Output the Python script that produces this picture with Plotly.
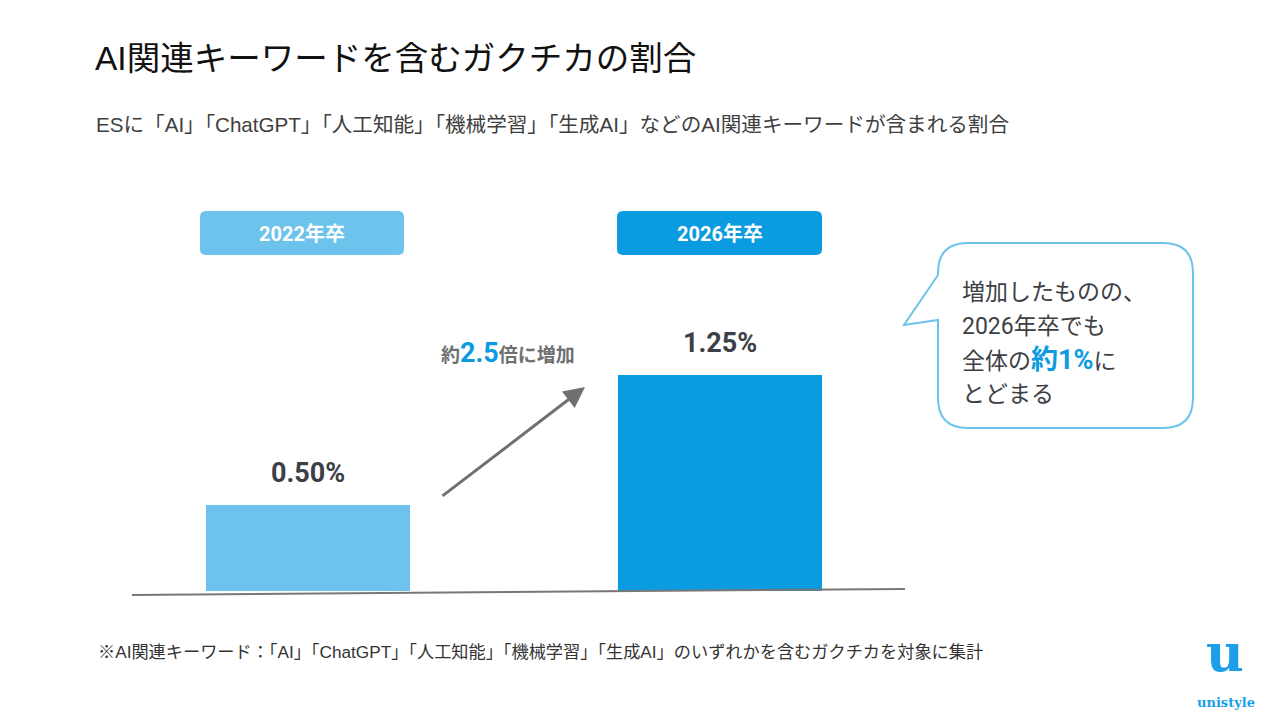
import plotly.graph_objects as go

# ---- data ----
categories = ["2022年卒", "2026年卒"]
values = [0.50, 1.25]
value_labels = ["0.50%", "1.25%"]
bar_colors = ["#6cc3ec", "#0a9be0"]

title_text = "AI関連キーワードを含むガクチカの割合"
subtitle_text = "ESに「AI」「ChatGPT」「人工知能」「機械学習」「生成AI」などのAI関連キーワードが含まれる割合"
footnote_text = "※AI関連キーワード：「AI」「ChatGPT」「人工知能」「機械学習」「生成AI」のいずれかを含むガクチカを対象に集計"
bubble_lines = [
    "増加したものの、",
    "2026年卒でも",
    "全体の<b><span style='color:#0a9be0;font-size:27px'>約1%</span></b>に",
    "とどまる",
]

# ---- layout helpers (pixel -> paper) ----
W, H = 1280, 720
PL, PR, PT, PB = 132, 905, 200, 591
PXU = 173.0  # pixels per unit on y


def px(x):
    return (x - PL) / (PR - PL)


def py(y):
    return (PB - y) / (PB - PT)


def pt(x, y):
    return f"{px(x):.5f},{py(y):.5f}"


def rr_path(x0, y0, x1, y1, r):
    return (f"M {pt(x0 + r, y0)} L {pt(x1 - r, y0)} Q {pt(x1, y0)} {pt(x1, y0 + r)} "
            f"L {pt(x1, y1 - r)} Q {pt(x1, y1)} {pt(x1 - r, y1)} "
            f"L {pt(x0 + r, y1)} Q {pt(x0, y1)} {pt(x0, y1 - r)} "
            f"L {pt(x0, y0 + r)} Q {pt(x0, y0)} {pt(x0 + r, y0)} Z")


JP = "Liberation Sans, Noto Sans CJK JP, sans-serif"
NUM = "Roboto, Liberation Sans, Noto Sans CJK JP, sans-serif"
DARK = "#3d3f46"
GRAY = "#6f7071"

fig = go.Figure()
fig.add_trace(go.Bar(
    x=list(range(len(categories))), y=values,
    width=0.495, marker=dict(color=bar_colors, line=dict(width=0)),
    hoverinfo="skip", showlegend=False,
))

shapes = []
annotations = []

# baseline (slightly tilted like the reference)
shapes.append(dict(type="line", xref="paper", yref="paper",
                   x0=0, y0=py(595), x1=1, y1=py(589),
                   line=dict(color="#777777", width=2)))

# header boxes
header_boxes = [(200, 404), (617, 822)]
for (x0, x1), cat, col in zip(header_boxes, categories, bar_colors):
    shapes.append(dict(type="path", xref="paper", yref="paper",
                       path=rr_path(x0, 211, x1, 255, 6),
                       fillcolor=col, line=dict(width=0)))
    annotations.append(dict(xref="paper", yref="paper", x=px((x0 + x1) / 2), y=py(234),
                            text=f"<b>{cat}</b>", showarrow=False,
                            font=dict(family=NUM, size=20, color="white"),
                            xanchor="center", yanchor="middle"))

# value labels
for i, (v, lab) in enumerate(zip(values, value_labels)):
    annotations.append(dict(x=i, y=v, xref="x", yref="y", text=f"<b>{lab}</b>",
                            showarrow=False, yanchor="bottom", yshift=14,
                            font=dict(family=NUM, size=27, color=DARK)))

# arrow
annotations.append(dict(xref="paper", yref="paper", x=px(585), y=py(387),
                        ax=441 - 585, ay=497 - 387, text="", showarrow=True,
                        arrowhead=2, arrowsize=1.4, arrowwidth=3, arrowcolor=GRAY))
annotations.append(dict(xref="paper", yref="paper", x=px(508), y=py(353),
                        text=("<b>約<span style='color:#0a9be0;font-size:27px'>2.5</span>倍に増加</b>"),
                        showarrow=False, xanchor="center", yanchor="middle",
                        font=dict(family=NUM, size=19, color=GRAY)))

# speech bubble
r = 30
bx0, by0, bx1, by1 = 938, 243, 1193, 428
bubble = (f"M {pt(bx0, 275)} L {pt(bx0, by0 + r)} Q {pt(bx0, by0)} {pt(bx0 + r, by0)} "
          f"L {pt(bx1 - r, by0)} Q {pt(bx1, by0)} {pt(bx1, by0 + r)} "
          f"L {pt(bx1, by1 - r)} Q {pt(bx1, by1)} {pt(bx1 - r, by1)} "
          f"L {pt(bx0 + r, by1)} Q {pt(bx0, by1)} {pt(bx0, by1 - r)} "
          f"L {pt(bx0, 320)} L {pt(904, 325)} Z")
shapes.append(dict(type="path", xref="paper", yref="paper", path=bubble,
                   fillcolor="white", line=dict(color="#6cc3ec", width=2)))
for k, line in enumerate(bubble_lines):
    annotations.append(dict(xref="paper", yref="paper", x=px(960), y=py(292 + 34 * k),
                            text=line, showarrow=False, xanchor="left", yanchor="middle",
                            font=dict(family=NUM, size=23, color=DARK)))

# titles
annotations.append(dict(xref="paper", yref="paper", x=px(93), y=py(58), text=title_text,
                        showarrow=False, xanchor="left", yanchor="middle",
                        font=dict(family=JP, size=33.5, color="#111111")))
annotations.append(dict(xref="paper", yref="paper", x=px(94), y=py(124), text=subtitle_text,
                        showarrow=False, xanchor="left", yanchor="middle",
                        font=dict(family=JP, size=20.6, color="#404040")))
annotations.append(dict(xref="paper", yref="paper", x=px(96), y=py(652), text=footnote_text,
                        showarrow=False, xanchor="left", yanchor="middle",
                        font=dict(family=JP, size=17.2, color="#333333")))

# logo
annotations.append(dict(xref="paper", yref="paper", x=px(1225), y=py(652), text="<b>u</b>",
                        showarrow=False, xanchor="center", yanchor="middle",
                        font=dict(family="DejaVu Serif", size=52, color="#1a9fe8")))
annotations.append(dict(xref="paper", yref="paper", x=px(1226), y=py(702), text="<b>unistyle</b>",
                        showarrow=False, xanchor="center", yanchor="middle",
                        font=dict(family="DejaVu Serif", size=13, color="#1a9fe8")))

fig.update_layout(
    width=W, height=H,
    margin=dict(l=PL, r=W - PR, t=PT, b=H - PB, pad=0),
    paper_bgcolor="white", plot_bgcolor="white",
    xaxis=dict(range=[-(308 - PL) / 412, 1 + (PR - 720) / 412], visible=False, fixedrange=True),
    yaxis=dict(range=[0, (PB - PT) / PXU], visible=False, fixedrange=True),
    shapes=shapes, annotations=annotations, bargap=0,
)

fig.write_html("out.html", config={"displayModeBar": False})
